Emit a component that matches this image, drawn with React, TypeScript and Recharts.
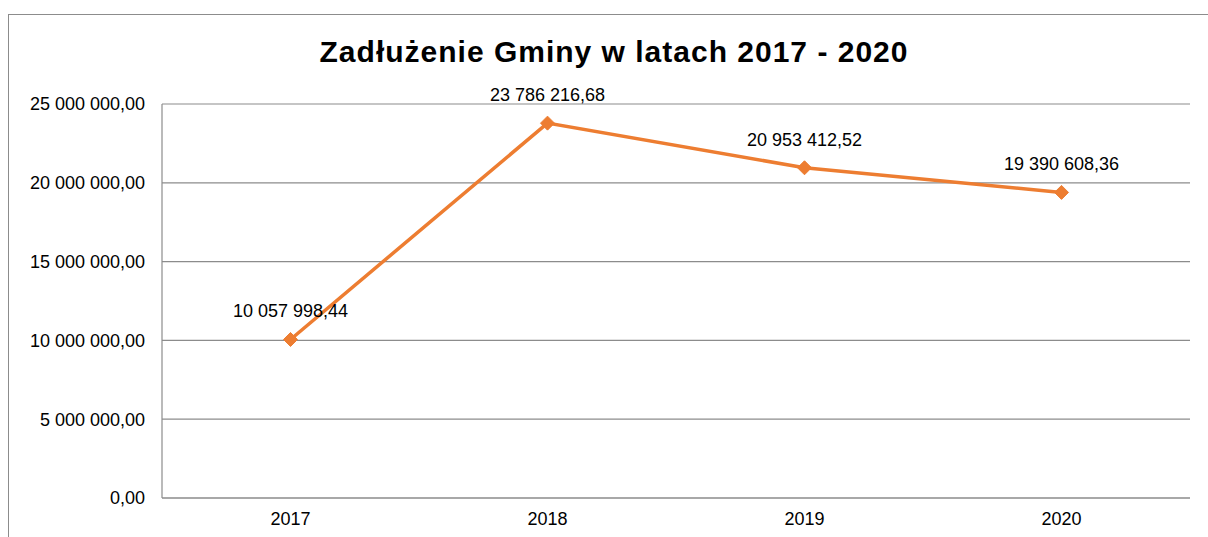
import React from "react";
import { LineChart, Line, XAxis, YAxis, CartesianGrid, LabelList } from "recharts";

const years = ["2017", "2018", "2019", "2020"];
const debt = [10057998.44, 23786216.68, 20953412.52, 19390608.36];
const yTicks = [0, 5000000, 10000000, 15000000, 20000000, 25000000];

const data = years.map((y, i) => ({ year: y, value: debt[i] }));

const fmt = (v: number) => {
  const [int, dec] = Number(v).toFixed(2).split(".");
  return int.replace(/\B(?=(\d{3})+(?!\d))/g, " ") + "," + dec;
};

const ORANGE = "#ED7D31";
const GRAY = "#8c8c8c";
const FONT = "'Liberation Sans', Arial, sans-serif";

const Diamond = (props: any) => {
  const { cx, cy, index } = props;
  if (cx == null || cy == null) return null;
  const r = 7;
  return (
    <polygon
      key={`d-${index}`}
      points={`${cx},${cy - r} ${cx + r},${cy} ${cx},${cy + r} ${cx - r},${cy}`}
      fill={ORANGE}
      stroke={ORANGE}
    />
  );
};

export default function App() {
  return (
    <div style={{ position: "absolute", left: 0, top: 0, width: 1208, height: 537, overflow: "hidden", background: "#fff", fontFamily: FONT }}>
      <div style={{ position: "absolute", left: 8, top: 14, width: 1400, height: 700, borderLeft: `1.5px solid ${GRAY}`, borderTop: `1.5px solid ${GRAY}` }} />
      <div style={{ position: "absolute", left: 0, top: 35, width: 1228, textAlign: "center", fontSize: 30, fontWeight: "bold", letterSpacing: 1, color: "#000", lineHeight: "normal" }}>
        Zadłużenie Gminy w latach 2017 - 2020
      </div>
      <div style={{ position: "absolute", left: 0, top: 0 }}>
        <LineChart width={1208} height={537} data={data} margin={{ top: 104, right: 18, bottom: 0, left: 0 }}>
          <CartesianGrid horizontal={true} vertical={false} stroke={GRAY} strokeWidth={1.2} />
          <XAxis
            dataKey="year"
            scale="band"
            height={39}
            tickLine={false}
            tickSize={0}
            tickMargin={14}
            stroke={GRAY}
            strokeWidth={1.2}
            tick={{ fill: "#000", fontSize: 18, fontFamily: FONT }}
          />
          <YAxis
            width={162}
            domain={[0, 25000000]}
            ticks={yTicks}
            tickFormatter={fmt}
            tickLine={false}
            tickSize={0}
            tickMargin={17}
            stroke={GRAY}
            strokeWidth={1.2}
            tick={{ fill: "#000", fontSize: 18, fontFamily: FONT }}
          />
          <Line
            dataKey="value"
            stroke={ORANGE}
            strokeWidth={3.5}
            dot={<Diamond />}
            activeDot={false}
            isAnimationActive={false}
          >
            <LabelList dataKey="value" position="top" offset={22} formatter={(v: any) => fmt(v)} style={{ fill: "#000", fontSize: 18, fontFamily: FONT }} />
          </Line>
        </LineChart>
      </div>
    </div>
  );
}
